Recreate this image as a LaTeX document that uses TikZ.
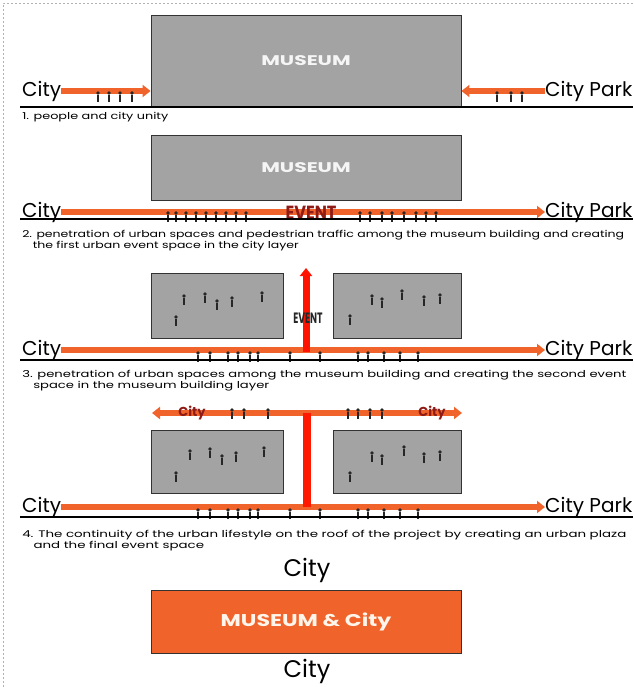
\documentclass[tikz,border=0pt]{standalone}
\usepackage{fontspec}
\setmainfont{Poppins}
\usetikzlibrary{arrows.meta}
\definecolor{orng}{HTML}{F0632B}
\definecolor{mgray}{HTML}{A3A3A3}
\definecolor{evred}{HTML}{8E1B16}
\begin{document}
\begin{tikzpicture}[x=1pt,y=-1pt,
  lbl/.style={font=\fontsize{20}{20}\selectfont, inner sep=0pt},
  captxt/.style={font=\fontsize{9.5}{11}\selectfont, anchor=north west, align=left, inner sep=0pt, xscale=1.35},
  box/.style={draw=black!80, fill=mgray, line width=0.9pt, inner sep=0pt},
  mus/.style={text=white!92!gray, font=\bfseries\fontsize{14}{14}\selectfont},
  flow/.style={orng, line width=6pt},
  tip/.style={-{Triangle[length=8pt,width=12pt]}},
  ground/.style={black, line width=1.2pt},
  person/.pic={\fill[black!85] (0,-9) circle (1.9pt); \draw[black!85, line width=2pt] (0,-7) -- (0,0);}
]
\useasboundingbox (0,0) rectangle (633,687);
\clip (0,0) rectangle (633,687);
% dotted frame
\draw[gray!60, dash pattern=on 2pt off 2pt, line width=0.8pt] (3,687) -- (3,3) -- (633,3);

% ---------- panel 1 ----------
\node[box, minimum width=310, minimum height=92] (m1) at (306,61) {};
\node[mus, xscale=1.45] (m1t) at (m1) {MUSEUM};
\node[lbl, anchor=west] (c1) at (22,91) {City};
\node[lbl, anchor=west] (p1) at (545,91) {City Park};
\draw[flow, tip] (c1.east) -- (c1.east -| m1.west);
\draw[flow, tip] (p1.west) -- (p1.west -| m1.east);
\foreach \x in {98,109,120,132} \pic at (\x,102) {person};
\foreach \x in {497,511,522} \pic at (\x,102) {person};
\draw[ground] (20,107) -- (633,107);
\node[captxt] (t1) at (22,112) {1. people and city unity};

% ---------- panel 2 ----------
\node[box, minimum width=310, minimum height=65] (m2) at (306,167.5) {};
\node[mus, xscale=1.45] (m2t) at (m2) {MUSEUM};
\node[lbl, anchor=west] (c2) at (22,212) {City};
\node[lbl, anchor=west] (p2) at (545,212) {City Park};
\draw[flow, tip] (c2.east) -- (p2.west);
\foreach \x in {168,176,186,196,206,216,226,236,246} \pic at (\x,222) {person};
\foreach \x in {360,370,382,392,404,416,426,436} \pic at (\x,222) {person};
\node[text=evred, font=\bfseries\fontsize{19}{19}\selectfont, inner sep=0pt, xscale=0.85] (e2) at (311,213) {EVENT};
\draw[ground] (20,219) -- (633,219);
\node[captxt, xscale=0.975] (t2) at (22,230) {2. penetration of urban spaces and pedestrian traffic among the museum building and creating\\\hspace*{8pt}the first urban event space in the city layer};

% ---------- panel 3 ----------
\node[box, minimum width=132, minimum height=65] (l3) at (217,305.5) {};
\node[box, minimum width=128, minimum height=65] (r3) at (397,305.5) {};
\foreach \x/\y in {184/305,205/303,217/310,232/307,262/302,176/326} \pic at (\x,\y) {person};
\foreach \x/\y in {350/325,372/305,382/308,402/300,424/306,440/304} \pic at (\x,\y) {person};
\node[lbl, anchor=west] (c3) at (22,350) {City};
\node[lbl, anchor=west] (p3) at (545,350) {City Park};
\draw[flow, tip] (c3.east) -- (p3.west);
\foreach \x in {198,210,228,238,250,258,290,320,358,368,384,400,418} \pic at (\x,362) {person};
\coordinate (v3b) at (306,352);
\coordinate (v3t) at (306,268);
\draw[red!85!orange, line width=7pt, -{Triangle[length=8pt,width=12pt]}] (v3b) -- (v3t);
\node[text=black!85, font=\bfseries\fontsize{15}{15}\selectfont, inner sep=0pt, xscale=0.62] (e3) at (308,318) {EVENT};
\draw[ground] (20,360) -- (633,360);
\node[captxt, xscale=1.025] (t3) at (22,370) {3. penetration of urban spaces among the museum building and creating the second event\\\hspace*{8pt}space in the museum building layer};

% ---------- panel 4 ----------
\node[box, minimum width=132, minimum height=63] (l4) at (217,461.5) {};
\node[box, minimum width=128, minimum height=63] (r4) at (397,461.5) {};
\foreach \x/\y in {190/460,210/458,222/465,236/462,264/457,176/482} \pic at (\x,\y) {person};
\foreach \x/\y in {350/482,372/462,382/465,404/456,424/463,440/461} \pic at (\x,\y) {person};
\coordinate (a4l) at (152,413);
\coordinate (a4r) at (462,413);
\coordinate (a4m) at (307,413);
\draw[flow, {Triangle[length=8pt,width=12pt]}-{Triangle[length=8pt,width=12pt]}] (a4l) -- (a4r);
\node[lbl, anchor=west] (c4) at (22,507) {City};
\node[lbl, anchor=west] (p4) at (545,507) {City Park};
\draw[flow, tip] (c4.east) -- (p4.west);
\draw[red!80!orange, line width=8pt] (a4m) -- (a4m |- c4.east);
\node[text=evred, font=\bfseries\fontsize{13}{13}\selectfont, inner sep=0pt] (k4l) at (192,413) {City};
\node[text=evred, font=\bfseries\fontsize{13}{13}\selectfont, inner sep=0pt] (k4r) at (432,413) {City};
\foreach \x in {232,244,268} \pic at (\x,419) {person};
\foreach \x in {348,358,370,382} \pic at (\x,419) {person};
\foreach \x in {198,210,228,238,250,258,290,320,358,368,384,400,418} \pic at (\x,519) {person};
\draw[ground] (20,517) -- (633,517);
\node[captxt, xscale=1.045] (t4) at (22,530) {4. The continuity of the urban lifestyle on the roof of the project by creating an urban plaza\\\hspace*{8pt}and the final event space};

% ---------- panel 5 ----------
\node[font=\fontsize{24}{24}\selectfont, inner sep=0pt] (c5t) at (307,570) {City};
\node[draw=black!80, fill=orng, line width=0.9pt, minimum width=310, minimum height=63] (m5) at (306,621.5) {};
\node[text=white!92!orange, font=\bfseries\fontsize{17}{17}\selectfont, xscale=1.3] (m5t) at (m5) {MUSEUM \& City};
\node[font=\fontsize{24}{24}\selectfont, inner sep=0pt] (c5b) at (307,671) {City};
\end{tikzpicture}
\end{document}
